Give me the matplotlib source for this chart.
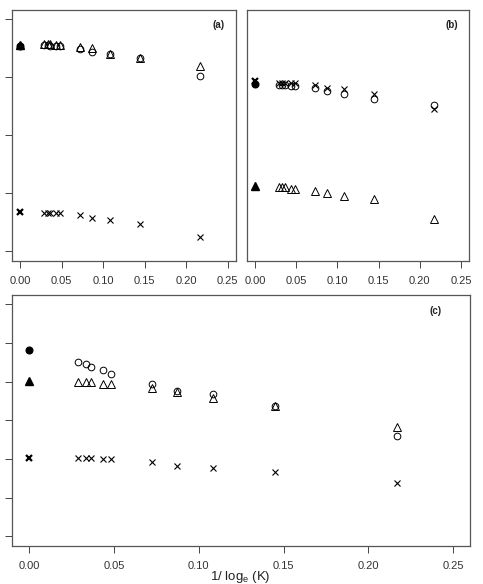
import matplotlib
matplotlib.use("Agg")
import matplotlib.pyplot as plt

plt.rcParams['font.family'] = ['Liberation Sans', 'DejaVu Sans']

# x = 1/log_e(K)
x_pts = [0.0290, 0.0334, 0.0362, 0.0434, 0.0483, 0.0724, 0.0869, 0.1086, 0.1448, 0.2171]

# panel (a)
a_tri = [0.8569, 0.8569, 0.8564, 0.8557, 0.8552, 0.8522, 0.8495, 0.8397, 0.8333, 0.8184]
a_circ = [0.8552, 0.8543, 0.8534, 0.8534, 0.8526, 0.8478, 0.8436, 0.8388, 0.8328, 0.8022]
a_cross = [0.5655, 0.5655, 0.5650, 0.5650, 0.5650, 0.5621, 0.5569, 0.5529, 0.5466, 0.5247]
a_lim = [0.854, 0.856, 0.567]   # filled circle, filled triangle, cross at K -> inf

# panel (b)
b_tri = [0.6098, 0.6098, 0.6098, 0.6074, 0.6064, 0.6034, 0.5995, 0.5943, 0.5891, 0.5552]
b_circ = [0.7857, 0.7857, 0.7857, 0.7845, 0.7845, 0.7810, 0.7764, 0.7712, 0.7621, 0.7522]
b_cross = [0.7902, 0.7902, 0.7902, 0.7902, 0.7902, 0.7857, 0.7810, 0.7788, 0.7707, 0.7453]
b_lim = [0.7879, 0.6121, 0.7936]

# panel (c)
c_tri = [0.6998, 0.6983, 0.6991, 0.6947, 0.6931, 0.6836, 0.6732, 0.6577, 0.6362, 0.5827]
c_circ = [0.7500, 0.7456, 0.7386, 0.7309, 0.7205, 0.6947, 0.6766, 0.6673, 0.6362, 0.5602]
c_cross = [0.5018, 0.5018, 0.5018, 0.4992, 0.5000, 0.4930, 0.4826, 0.4774, 0.4671, 0.4379]
c_lim = [0.7826, 0.7024, 0.5033]

xticks = [0.00, 0.05, 0.10, 0.15, 0.20, 0.25]
xticklabels = ['0.00', '0.05', '0.10', '0.15', '0.20', '0.25']

W, H = 483, 584
fig = plt.figure(figsize=(W / 100, H / 100), dpi=100)


def box(l, t, r, b):
    return [l / W, (H - b) / H, (r - l) / W, (b - t) / H]


def panel(ax, tri, circ, cross, lim, ylim, yticks, label, lab_xy, show_y=True):
    ms = 5
    ax.plot(x_pts, circ, 'o', mfc='none', mec='black', ms=4.8, mew=0.7)
    ax.plot(x_pts, tri, '^', mfc='none', mec='black', ms=5.5, mew=0.7)
    ax.plot(x_pts, cross, 'x', color='black', ms=ms, mew=0.8)
    ax.plot([0], [lim[0]], 'o', color='black', ms=4.8)
    ax.plot([0], [lim[1]], '^', color='black', ms=5.5)
    ax.plot([0], [lim[2]], 'x', color='black', ms=ms, mew=1.6)
    ax.set_xlim(-0.01, 0.26)
    ax.set_ylim(*ylim)
    ax.set_xticks(xticks)
    ax.set_xticklabels(xticklabels)
    ax.set_yticks(yticks)
    ax.tick_params(direction='out', length=5, width=0.7, color='#444444',
                   labelsize=8, labelcolor='#333333', pad=6)
    # y tick labels fall outside the cropped figure, only the marks show
    ax.tick_params(axis='y', labelleft=False)
    if not show_y:
        ax.tick_params(axis='y', left=False)
    for s in ax.spines.values():
        s.set_color('#555555')
        s.set_linewidth(0.9)
    ax.text(lab_xy[0], lab_xy[1], label, transform=ax.transAxes, ha='center',
            va='center', fontsize=7, fontweight='bold', color='#222222')


ax_a = fig.add_axes(box(12, 10, 236, 260.5))
panel(ax_a, a_tri, a_circ, a_cross, a_lim, (0.4836, 0.9155),
      [0.5, 0.6, 0.7, 0.8, 0.9], '(a)', (0.92, 0.94))

ax_b = fig.add_axes(box(246.7, 10, 469.3, 260.5))
panel(ax_b, b_tri, b_circ, b_cross, b_lim, (0.4836, 0.9155),
      [0.5, 0.6, 0.7, 0.8, 0.9], '(b)', (0.92, 0.94), show_y=False)

ax_c = fig.add_axes(box(12.3, 295, 470, 545.7))
panel(ax_c, c_tri, c_circ, c_cross, c_lim, (0.2757, 0.924),
      [0.3, 0.4, 0.5, 0.6, 0.7, 0.8, 0.9], '(c)', (0.924, 0.935))

fig.text(240.7 / W, (H - 577) / H, r'1/ log$_\mathregular{e}$ (K)', ha='center',
         va='center', fontsize=9.5, color='#222222')

fig.savefig('out.png', dpi=100)
